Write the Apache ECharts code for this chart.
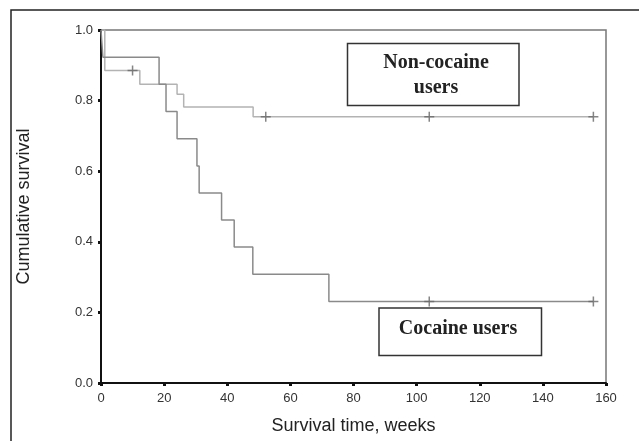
<!DOCTYPE html>
<html>
<head>
<meta charset="utf-8">
<script src="https://cdn.jsdelivr.net/npm/echarts@6/dist/echarts.min.js"></script>
<style>html,body{margin:0;padding:0;background:#fff}#c{width:639px;height:441px}</style>
</head>
<body>
<div id="c"></div>
<script>
// Kaplan-Meier step data (time in weeks, cumulative survival)
const cocaineTimes = [0, 0.6, 18.4, 20.6, 24.1, 30.4, 31.1, 38.2, 42.2, 48.1, 72.2, 156];
const cocaineSurv  = [1.0, 0.923, 0.846, 0.769, 0.692, 0.615, 0.538, 0.462, 0.385, 0.308, 0.231, 0.231];
const nonTimes = [0, 1.2, 12.3, 24.1, 26.2, 48.2, 156];
const nonSurv  = [1.0, 0.885, 0.846, 0.818, 0.782, 0.754, 0.754];
// censored observations
const cocaineCensorTimes = [104, 156];
const cocaineCensorSurv  = [0.231, 0.231];
const nonCensorTimes = [10, 52.2, 104, 156];
const nonCensorSurv  = [0.885, 0.754, 0.754, 0.754];
const xTicks = [0, 20, 40, 60, 80, 100, 120, 140, 160];
const yTicks = [0.0, 0.2, 0.4, 0.6, 0.8, 1.0];

const zip = (a, b) => a.map((v, i) => [v, b[i]]);
const plus = 'path://M8.5,0 H11.5 V8.5 H20 V11.5 H11.5 V20 H8.5 V11.5 H0 V8.5 H8.5 Z';

const chart = echarts.init(document.getElementById('c'), null, {renderer: 'canvas'});
chart.setOption({
  animation: false,
  backgroundColor: '#fff',
  grid: {left: 101, right: 33, top: 30, bottom: 58, show: true, borderColor: '#777', borderWidth: 1.5},
  xAxis: {
    type: 'value', min: xTicks[0], max: xTicks[xTicks.length - 1], interval: 20,
    name: 'Survival time, weeks', nameLocation: 'middle', nameGap: 34,
    nameTextStyle: {fontFamily: 'Liberation Sans', fontSize: 18, color: '#222'},
    axisLine: {show: true, lineStyle: {color: '#111', width: 2}},
    axisTick: {show: true, length: 3, lineStyle: {color: '#111', width: 3}},
    axisLabel: {fontFamily: 'Liberation Sans', fontSize: 13, color: '#333', margin: 9},
    splitLine: {show: false}
  },
  yAxis: {
    type: 'value', min: yTicks[0], max: yTicks[yTicks.length - 1], interval: 0.2,
    name: 'Cumulative survival', nameLocation: 'middle', nameGap: 68,
    nameTextStyle: {fontFamily: 'Liberation Sans', fontSize: 18, color: '#222'},
    axisLine: {show: true, lineStyle: {color: '#111', width: 2}},
    axisTick: {show: true, length: 3, lineStyle: {color: '#111', width: 3}},
    axisLabel: {fontFamily: 'Liberation Sans', fontSize: 13, color: '#333', margin: 8,
      formatter: v => v.toFixed(1)},
    splitLine: {show: false}
  },
  series: [
    {type: 'line', name: 'Non-cocaine users', step: 'end', data: zip(nonTimes, nonSurv),
     showSymbol: false, lineStyle: {color: '#b3b3b3', width: 1.5}, z: 2},
    {type: 'line', name: 'Cocaine users', step: 'end', data: zip(cocaineTimes, cocaineSurv),
     showSymbol: false, lineStyle: {color: '#8a8a8a', width: 1.5}, z: 3},
    {type: 'scatter', data: zip(nonCensorTimes, nonCensorSurv), symbol: plus, symbolSize: 10,
     itemStyle: {color: '#666'}, z: 4},
    {type: 'scatter', data: zip(cocaineCensorTimes, cocaineCensorSurv), symbol: plus, symbolSize: 10,
     itemStyle: {color: '#666'}, z: 4}
  ],
  graphic: [
    {type: 'polyline', shape: {points: [[11, 441], [11, 10], [639, 10]]},
     style: {fill: 'none', stroke: '#222', lineWidth: 1.5}},
    {type: 'rect', shape: {x: 347.5, y: 43.5, width: 171.5, height: 62},
     style: {fill: '#fff', stroke: '#333', lineWidth: 1.5}, z: 10},
    {type: 'text', x: 436, y: 75, z: 11,
     style: {text: 'Non-cocaine\nusers', textAlign: 'center', textVerticalAlign: 'middle',
       fontFamily: 'Liberation Serif', fontWeight: 'bold', fontSize: 20, lineHeight: 25, fill: '#222'}},
    {type: 'rect', shape: {x: 379, y: 308, width: 162.5, height: 47.5},
     style: {fill: '#fff', stroke: '#333', lineWidth: 1.5}, z: 10},
    {type: 'text', x: 458, y: 329, z: 11,
     style: {text: 'Cocaine users', textAlign: 'center', textVerticalAlign: 'middle',
       fontFamily: 'Liberation Serif', fontWeight: 'bold', fontSize: 20, fill: '#222'}}
  ]
});
</script>
</body>
</html>
